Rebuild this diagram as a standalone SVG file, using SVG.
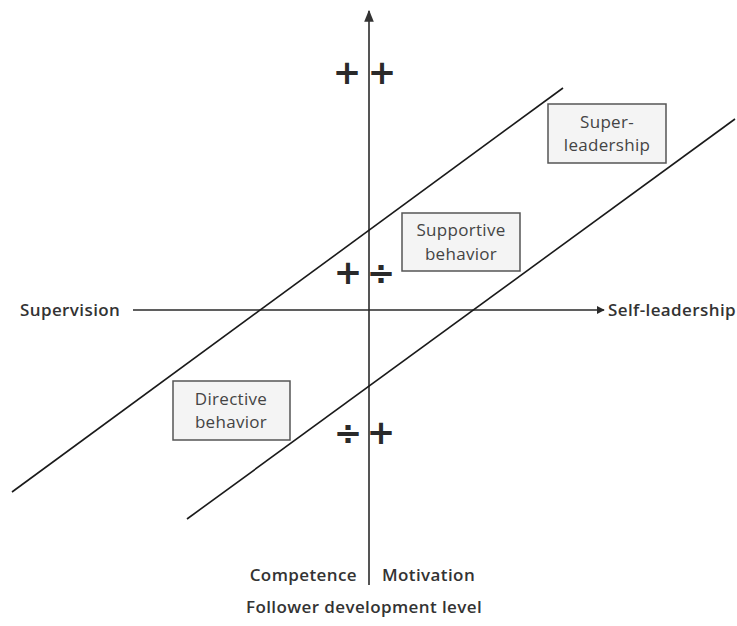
<svg xmlns="http://www.w3.org/2000/svg" width="737" height="626" viewBox="0 0 737 626">
<defs>
<marker id="ah" viewBox="0 0 10 10" refX="9" refY="5" markerWidth="8" markerHeight="8" markerUnits="userSpaceOnUse" orient="auto">
<path d="M0,0 L10,5 L0,10 Z" fill="#2a2a2a"/>
</marker>
<marker id="ahv" viewBox="0 0 10 10" refX="9" refY="5" markerWidth="12" markerHeight="12" markerUnits="userSpaceOnUse" orient="auto">
<path d="M0,1 L10,5 L0,9 Z" fill="#333"/>
</marker>
</defs>
<style>
.lbl{font-family:"Open Sans","DejaVu Sans",sans-serif;font-size:17px;fill:#333;font-weight:600;letter-spacing:0.4px}
.box{fill:#f4f4f4;stroke:#555;stroke-width:1.5}
.bt{font-family:"Open Sans","DejaVu Sans",sans-serif;font-size:17px;fill:#444;text-anchor:middle;letter-spacing:0.3px}
.sym{font-family:"DejaVu Sans",sans-serif;font-size:34px;font-weight:bold;fill:#2a2a2a;text-anchor:middle}
.ln{stroke:#1a1a1a;stroke-width:1.6;fill:none}
</style>
<rect width="737" height="626" fill="#fff"/>
<g id="connectors">
<line x1="369" y1="585" x2="369" y2="11" stroke="#555" stroke-width="2" marker-end="url(#ahv)"/>
<line x1="133" y1="310" x2="604" y2="310" stroke="#2a2a2a" stroke-width="1.6" marker-end="url(#ah)"/>
<line class="ln" x1="12" y1="492" x2="563" y2="88"/>
<line class="ln" x1="187" y1="519" x2="735" y2="119"/>
</g>
<g id="supervision"><text class="lbl" x="20" y="316">Supervision</text></g>
<g id="self-leadership"><text class="lbl" x="608" y="316">Self-leadership</text></g>
<g id="super-leadership">
<rect class="box" x="548" y="104" width="118" height="59"/>
<text class="bt" x="607" y="128">Super-</text>
<text class="bt" x="607" y="151">leadership</text>
</g>
<g id="supportive-behavior">
<rect class="box" x="402" y="213" width="118" height="58"/>
<text class="bt" x="461" y="236">Supportive</text>
<text class="bt" x="461" y="260">behavior</text>
</g>
<g id="directive-behavior">
<rect class="box" x="173" y="381" width="117" height="59"/>
<text class="bt" x="231" y="405">Directive</text>
<text class="bt" x="231" y="428">behavior</text>
</g>
<g id="signs">
<text class="sym" x="347" y="84">+</text>
<text class="sym" x="382" y="84">+</text>
<text class="sym" x="348" y="284">+</text>
<text class="sym" x="381" y="284">÷</text>
<text class="sym" x="348" y="444">÷</text>
<text class="sym" x="381" y="444">+</text>
</g>
<g id="competence"><text class="lbl" x="357" y="581" text-anchor="end">Competence</text></g>
<g id="motivation"><text class="lbl" x="382" y="581">Motivation</text></g>
<g id="follower"><text class="lbl" x="364" y="613" text-anchor="middle">Follower development level</text></g>
</svg>
